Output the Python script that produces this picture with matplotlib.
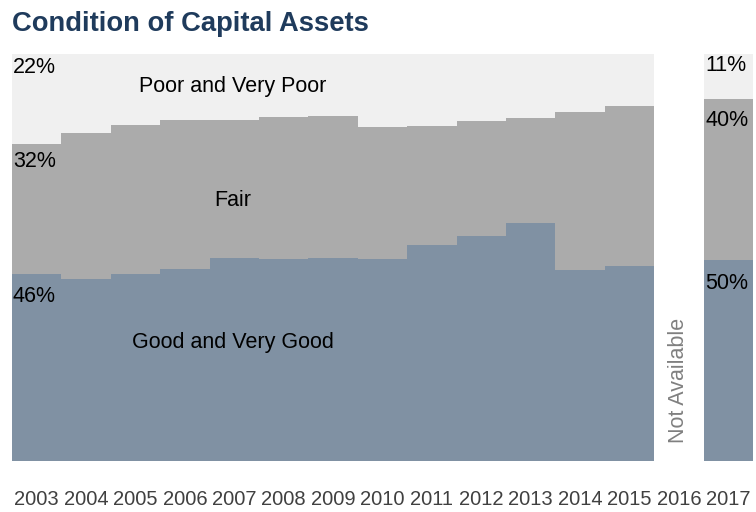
import matplotlib
matplotlib.use("Agg")
import matplotlib.pyplot as plt
import numpy as np

plt.rcParams['font.family'] = ['Liberation Sans', 'DejaVu Sans']

years = [2003, 2004, 2005, 2006, 2007, 2008, 2009, 2010, 2011, 2012, 2013, 2014, 2015, 2016, 2017]
good = [46.0, 44.7, 46.1, 47.2, 50.0, 49.7, 49.9, 49.7, 53.2, 55.4, 58.5, 47.0, 47.9, None, 49.5]
poor = [22.0, 19.4, 17.5, 16.1, 16.1, 15.3, 15.2, 17.8, 17.6, 16.4, 15.7, 14.2, 12.6, None, 11.0]
fair = [None if g is None else 100.0 - g - p for g, p in zip(good, poor)]

series_names = ["Good and Very Good", "Fair", "Poor and Very Poor"]
colors = ["#8091A3", "#ABABAB", "#F0F0F0"]

fig = plt.figure(figsize=(7.56, 5.12), dpi=100)
ax = fig.add_axes([12/756, (512-461)/512, (753-12)/756, (461-54.3)/512])

yrs = [y for y, g in zip(years, good) if g is not None]
g_arr = np.array([g for g in good if g is not None])
f_arr = np.array([f for f in fair if f is not None])
p_arr = np.array([p for p in poor if p is not None])

ax.bar(yrs, g_arr, width=1.0, color=colors[0], linewidth=0)
ax.bar(yrs, f_arr, width=1.0, bottom=g_arr, color=colors[1], linewidth=0)
ax.bar(yrs, p_arr, width=1.0, bottom=g_arr + f_arr, color=colors[2], linewidth=0)

ax.set_xlim(2002.5, 2017.5)
ax.set_ylim(0, 100)
ax.set_xticks(years)
ax.set_xticklabels([str(y) for y in years], fontsize=14.5, color="#404040")
ax.tick_params(axis='x', length=0, pad=21)
ax.set_yticks([])
for s in ax.spines.values():
    s.set_visible(False)

# percentage labels for first and last year
fs = 15.5
label_specs = [
    (0, 0.7, (-2.2, -5.5, -8.4)),
    (len(years) - 1, 1.2, (-0.7, -8.0, -9.8)),
]
for idx, dx, (op, of, og) in label_specs:
    y0 = years[idx]
    g, f, p = good[idx], fair[idx], poor[idx]
    ax.annotate(f"{round(p)}%", xy=(y0 - 0.5, 100), xytext=(dx, op), textcoords='offset points',
                ha='left', va='top', fontsize=fs, color='black', annotation_clip=False)
    ax.annotate(f"{round(f)}%", xy=(y0 - 0.5, g + f), xytext=(dx, of), textcoords='offset points',
                ha='left', va='top', fontsize=fs, color='black')
    ax.annotate(f"{round(g)}%", xy=(y0 - 0.5, g), xytext=(dx, og), textcoords='offset points',
                ha='left', va='top', fontsize=fs, color='black')

# series labels
xc = 2006.97
ax.text(xc, 90.8, series_names[2], ha='center', va='baseline', fontsize=15.5, color='black')
ax.text(xc, 62.8, series_names[1], ha='center', va='baseline', fontsize=15.5, color='black')
ax.text(xc, 27.7, series_names[0], ha='center', va='baseline', fontsize=15.5, color='black')

ax.text(2016, 19.9, "Not Available", rotation=90, ha='center', va='center', fontsize=15.5, color='#808080')

fig.text(12/756, 1 - 31.3/512, "Condition of Capital Assets", ha='left', va='baseline',
         fontsize=19.7, fontweight='bold', color='#1F3B5C')

fig.savefig("out.png", dpi=100)
